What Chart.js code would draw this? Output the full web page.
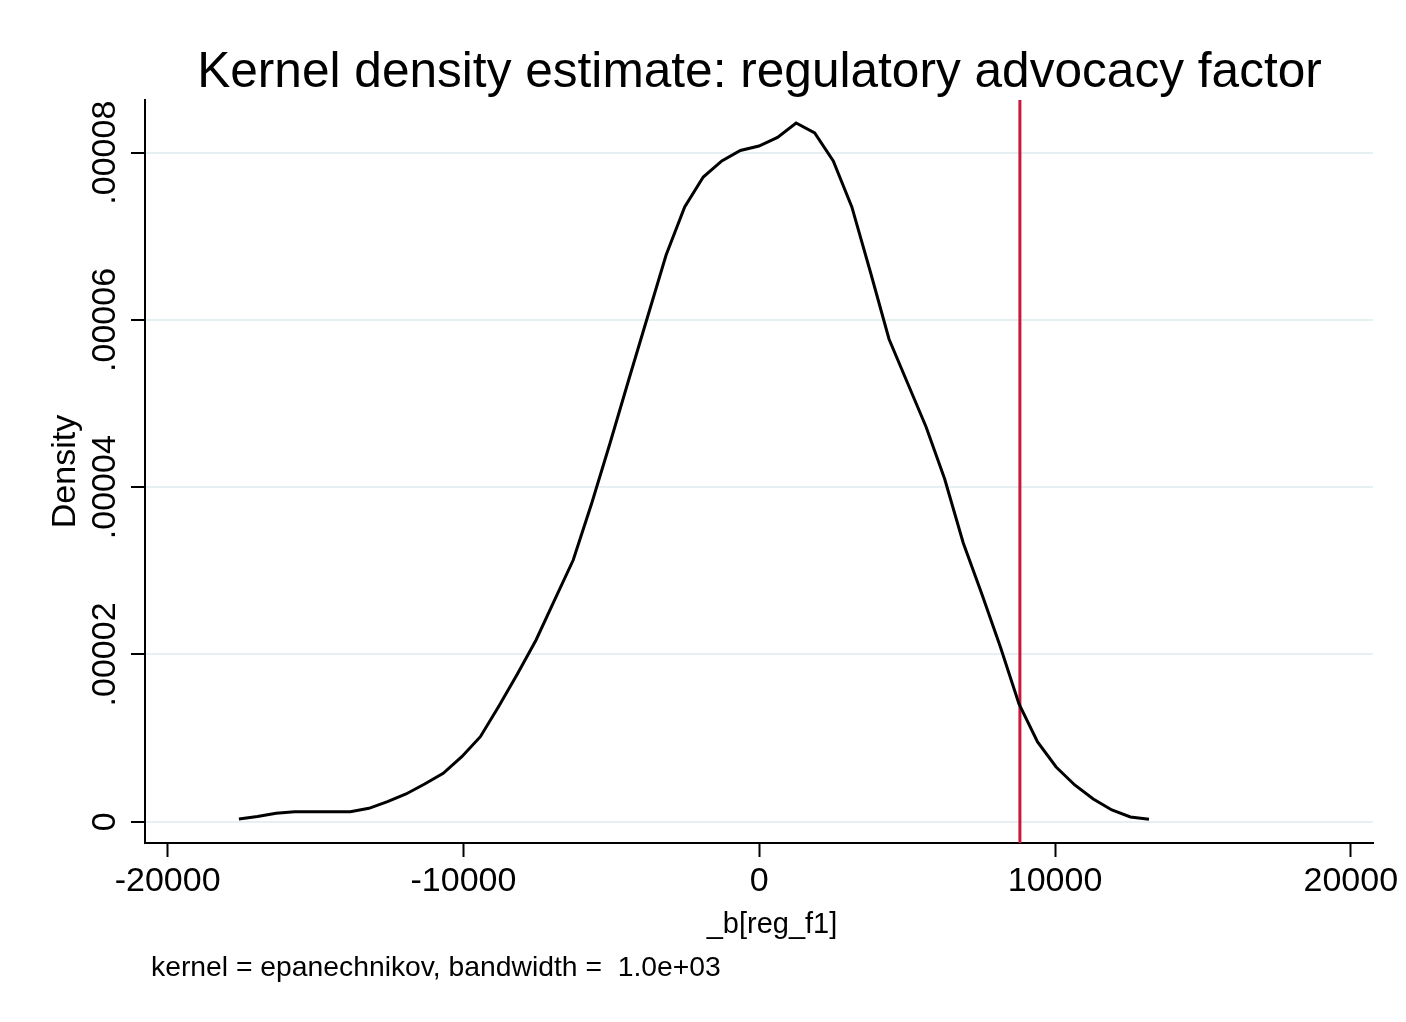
<!DOCTYPE html>
<html>
<head>
<meta charset="utf-8">
<title>Kernel density estimate</title>
<script src="https://cdn.jsdelivr.net/npm/chart.js@4.4.1/dist/chart.umd.min.js"></script>
<style>
    html, body { margin: 0; padding: 0; background: #fff; }
    canvas { display: block; }
</style>
</head>
<body>
<canvas id="kdensity-chart" width="1406" height="1022"></canvas>
<script>
// evaluation grid of the kernel density (x) and estimated density (y)
const gridX = [
    -17590, -16962, -16334, -15706, -15078, -14450, -13823, -13195, -12567, -11939,
    -11311, -10683, -10055, -9427, -8799, -8171, -7544, -6916, -6288, -5660,
    -5032, -4404, -3776, -3148, -2520, -1892, -1265, -637, -9, 619,
    1247, 1875, 2503, 3131, 3759, 4387, 5014, 5642, 6270, 6898,
    7526, 8154, 8782, 9410, 10038, 10666, 11293, 11921, 12549, 13177
];
const density = [
    3.2e-7, 6.2e-7, 1.0e-6, 1.2e-6, 1.2e-6, 1.2e-6, 1.2e-6, 1.6e-6, 2.39e-6, 3.31e-6,
    4.51e-6, 5.79e-6, 7.77e-6, 1.016e-5, 1.384e-5, 1.770e-5, 2.173e-5, 2.651e-5, 3.129e-5, 3.811e-5,
    4.540e-5, 5.294e-5, 6.035e-5, 6.777e-5, 7.351e-5, 7.709e-5, 7.901e-5, 8.026e-5, 8.080e-5, 8.182e-5,
    8.355e-5, 8.236e-5, 7.901e-5, 7.351e-5, 6.573e-5, 5.772e-5, 5.246e-5, 4.720e-5, 4.098e-5, 3.333e-5,
    2.723e-5, 2.089e-5, 1.407e-5, 9.53e-6, 6.54e-6, 4.39e-6, 2.71e-6, 1.40e-6, 5.6e-7, 2.9e-7
];

// observed coefficient (vertical reference line)
const observedValue = 8813;

const xTicks = [-20000, -10000, 0, 10000, 20000];
const xTickLabels = ['-20000', '-10000', '0', '10000', '20000'];
const yTicks = [0, 0.00002, 0.00004, 0.00006, 0.00008];
const yTickLabels = ['0', '.00002', '.00004', '.00006', '.00008'];

const xRange = [-20765, 20750];
const yRange = [-0.00000255, 0.0000863];

const titleText = 'Kernel density estimate: regulatory advocacy factor';
const xTitleText = '_b[reg_f1]';
const noteText = 'kernel = epanechnikov, bandwidth =  1.0e+03';

const FONT = '"Liberation Sans", Arial, Helvetica, sans-serif';

const textPlugin = {
    id: 'stataText',
    afterDraw: (chart) => {
        const ctx = chart.ctx;
        ctx.save();
        ctx.fillStyle = '#000';
        ctx.textBaseline = 'alphabetic';
        ctx.textAlign = 'center';
        ctx.font = `49.6px ${FONT}`;
        ctx.fillText(titleText, 759.5, 87);
        ctx.font = `29px ${FONT}`;
        ctx.fillText(xTitleText, 772, 933);
        ctx.textAlign = 'left';
        ctx.font = `28.3px ${FONT}`;
        ctx.fillText(noteText, 151, 976);
        ctx.restore();
    }
};

const bgPlugin = {
    id: 'whiteBg',
    beforeDraw: (chart) => {
        const ctx = chart.ctx;
        ctx.save();
        ctx.fillStyle = '#fff';
        ctx.fillRect(0, 0, chart.width, chart.height);
        ctx.restore();
    }
};

const ctx = document.getElementById('kdensity-chart');

new Chart(ctx, {
    type: 'scatter',
    data: {
        datasets: [
            {
                label: 'density',
                data: gridX.map((x, i) => ({ x, y: density[i] })),
                showLine: true,
                borderColor: '#000',
                borderWidth: 3,
                pointRadius: 0,
                tension: 0,
                fill: false,
            },
            {
                label: 'observed',
                data: [{ x: observedValue, y: yRange[0] }, { x: observedValue, y: yRange[1] }],
                showLine: true,
                borderColor: '#c8193c',
                borderWidth: 3,
                pointRadius: 0,
                fill: false,
            }
        ]
    },
    options: {
        responsive: false,
        animation: false,
        layout: { padding: { left: 0, right: 33, top: 100, bottom: 0 } },
        plugins: {
            legend: { display: false },
            tooltip: { enabled: false },
            title: { display: false },
        },
        scales: {
            x: {
                type: 'linear',
                min: xRange[0],
                max: xRange[1],
                afterBuildTicks: (scale) => {
                    scale.ticks = xTicks.map(v => ({ value: v }));
                },
                afterFit: (scale) => { scale.height = 179; },
                ticks: {
                    color: '#000',
                    font: { family: FONT, size: 34 },
                    padding: 4,
                    maxRotation: 0,
                    autoSkip: false,
                    callback: (v) => xTickLabels[xTicks.indexOf(v)],
                },
                grid: {
                    drawOnChartArea: false,
                    drawTicks: true,
                    tickLength: 14,
                    tickColor: '#000',
                    tickWidth: 2,
                },
                border: { display: true, color: '#000', width: 2 },
            },
            y: {
                type: 'linear',
                min: yRange[0],
                max: yRange[1],
                afterBuildTicks: (scale) => {
                    scale.ticks = yTicks.map(v => ({ value: v }));
                },
                afterFit: (scale) => { scale.width = 145; },
                ticks: {
                    color: '#000',
                    font: { family: FONT, size: 34 },
                    minRotation: 90,
                    maxRotation: 90,
                    crossAlign: 'center',
                    padding: -27,
                    autoSkip: false,
                    callback: (v) => {
                        const i = yTicks.findIndex(t => Math.abs(t - v) < 1e-12);
                        return i >= 0 ? yTickLabels[i] : '';
                    },
                },
                grid: {
                    color: '#e6eff1',
                    lineWidth: 2,
                    drawTicks: true,
                    tickLength: 14,
                    tickColor: '#000',
                    tickWidth: 2,
                },
                border: { display: true, color: '#000', width: 2 },
                title: {
                    display: true,
                    text: 'Density',
                    color: '#000',
                    font: { family: FONT, size: 34 },
                    padding: { top: 45, bottom: 0 },
                },
            }
        }
    },
    plugins: [bgPlugin, textPlugin]
});
</script>
</body>
</html>
